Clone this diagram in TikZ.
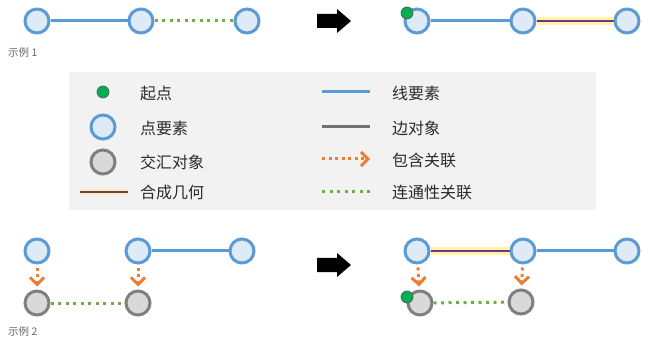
\documentclass[tikz,border=0pt]{standalone}
\usepackage{fontspec}
\setmainfont{Noto Sans CJK SC}
\usetikzlibrary{arrows.meta}
\definecolor{ptblue}{HTML}{5B9BD5}
\definecolor{ptfill}{HTML}{DEEBF7}
\definecolor{jnstroke}{HTML}{7F7F7F}
\definecolor{jnfill}{HTML}{D9D9D9}
\definecolor{startgreen}{HTML}{00B050}
\definecolor{conngreen}{HTML}{70AD47}
\definecolor{contorange}{HTML}{ED7D31}
\definecolor{edgegray}{HTML}{767171}
\definecolor{geompurple}{HTML}{7030A0}
\definecolor{glowyellow}{HTML}{FFF59A}
\definecolor{legendbg}{HTML}{F2F2F2}
\definecolor{txt}{HTML}{2B2B2B}
\begin{document}
\begin{tikzpicture}[x=1pt,y=-1pt,
  ptnode/.style={circle,draw=ptblue,fill=ptfill,line width=3pt,minimum size=24pt,inner sep=0pt},
  jnnode/.style={circle,draw=jnstroke,fill=jnfill,line width=3pt,minimum size=24pt,inner sep=0pt},
  startdot/.style={circle,draw=black!65,fill=startgreen,line width=0.7pt,minimum size=12pt,inner sep=0pt},
  lineft/.style={draw=ptblue,line width=3pt},
  edgeobj/.style={draw=edgegray,line width=3pt},
  connrel/.style={draw=conngreen,line width=3pt,dash pattern=on 3pt off 4.5pt},
  contrel/.style={draw=contorange,line width=3pt,dash pattern=on 3pt off 3.5pt,
     -{Straight Barb[length=7pt,width=14pt,line width=3pt]}},
  contrelv/.style={contrel,shorten <=3pt,shorten >=3pt},
  glow/.style={draw=glowyellow,line width=8pt},
  geomline/.style={draw=geompurple,line width=2pt},
  lgtext/.style={anchor=west,text=txt,font=\fontsize{16}{17}\selectfont,inner sep=0pt},
  exlabel/.style={anchor=west,text=black!60,font=\fontsize{10.5}{11}\selectfont,inner sep=0pt},
  blockarrow/.pic={\fill[black] (-17,-7) -- (3,-7) -- (3,-12) -- (17,0) -- (3,12) -- (3,7) -- (-17,7) -- cycle;}
]
\useasboundingbox (0,0) rectangle (650,347);

% ---------- Example 1 ----------
\node[ptnode] (a1) at (37,21) {};
\node[ptnode] (a2) at (141,21) {};
\node[ptnode] (a3) at (247,21) {};
\draw[lineft] (a1) -- (a2);
\draw[connrel] (a2) -- (a3);
\node[exlabel] (ex1) at (8,53) {示例 1};

\pic at (334,21) {blockarrow};

\node[ptnode] (b1) at (417,21) {};
\node[ptnode] (b2) at (523,21) {};
\node[ptnode] (b3) at (627,21) {};
\draw[lineft] (b1) -- (b2);
\draw[glow] (b2) -- (b3);
\draw[geomline] (b2) -- (b3);
\node[startdot] (s1) at (407,13) {};

% ---------- Legend ----------
\fill[legendbg] (69,72) rectangle (596,210);
\node[startdot] (lg1) at (103,92) {};
\node[lgtext] (lt1) at (140,93) {起点};
\node[ptnode] (lg2) at (103,127) {};
\node[lgtext] (lt2) at (140,128) {点要素};
\node[jnnode] (lg3) at (103,162) {};
\node[lgtext] (lt3) at (140,162) {交汇对象};
\coordinate (lg4a) at (80,192);
\coordinate (lg4b) at (128,192);
\draw[glow,line width=6pt] (lg4a) -- (lg4b);
\draw[geomline] (lg4a) -- (lg4b);
\node[lgtext] (lt4) at (140,192) {合成几何};

\coordinate (lr1a) at (322,92);  \coordinate (lr1b) at (370,92);
\draw[lineft] (lr1a) -- (lr1b);
\node[lgtext] (rt1) at (392,93) {线要素};
\coordinate (lr2a) at (322,127); \coordinate (lr2b) at (370,127);
\draw[edgeobj] (lr2a) -- (lr2b);
\node[lgtext] (rt2) at (392,128) {边对象};
\coordinate (lr3a) at (322,159); \coordinate (lr3b) at (370,159);
\draw[contrel] (lr3a) -- (lr3b);
\node[lgtext] (rt3) at (392,160) {包含关联};
\coordinate (lr4a) at (322,192); \coordinate (lr4b) at (370,192);
\draw[connrel] (lr4a) -- (lr4b);
\node[lgtext] (rt4) at (392,192) {连通性关联};

% ---------- Example 2 ----------
\node[ptnode] (c1) at (37,251) {};
\node[ptnode] (c2) at (138,251) {};
\node[ptnode] (c3) at (242,251) {};
\node[jnnode] (j1) at (37,303) {};
\node[jnnode] (j2) at (138,303) {};
\draw[lineft] (c2) -- (c3);
\draw[connrel] (j1) -- (j2);
\draw[contrelv] (c1) -- (j1);
\draw[contrelv] (c2) -- (j2);
\node[exlabel] (ex2) at (8,332) {示例 2};

\pic at (334,265) {blockarrow};

\node[ptnode] (d1) at (417,251) {};
\node[ptnode] (d2) at (523,251) {};
\node[ptnode] (d3) at (627,251) {};
\node[jnnode] (k1) at (420,303) {};
\node[jnnode] (k2) at (521,302) {};
\draw[glow] (d1) -- (d2);
\draw[geomline] (d1) -- (d2);
\draw[lineft] (d2) -- (d3);
\draw[connrel] (k1) -- (k2);
\draw[contrelv] (d1) -- (k1);
\draw[contrelv] (d2) -- (k2);
\node[startdot] (s2) at (407,297) {};
\end{tikzpicture}
\end{document}
